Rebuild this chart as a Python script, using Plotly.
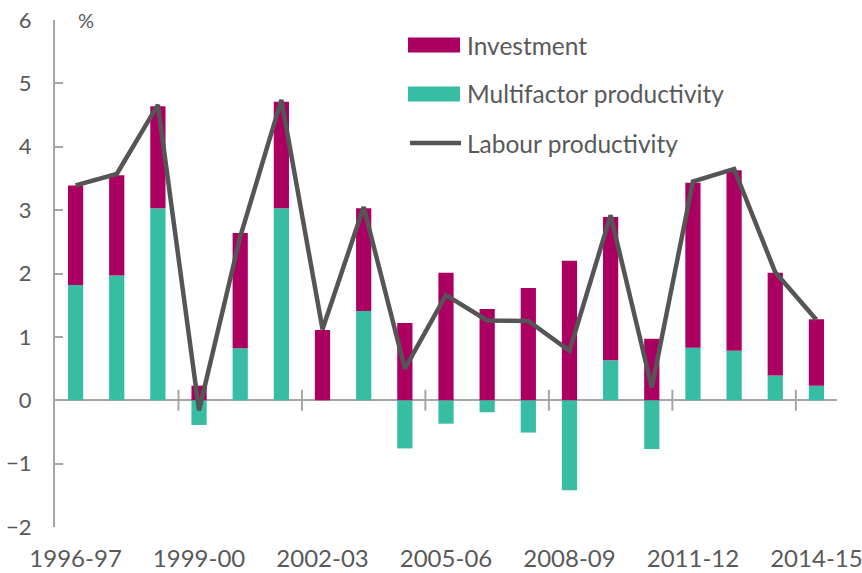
import plotly.graph_objects as go

years = ["1996-97", "1997-98", "1998-99", "1999-00", "2000-01", "2001-02", "2002-03",
         "2003-04", "2004-05", "2005-06", "2006-07", "2007-08", "2008-09", "2009-10",
         "2010-11", "2011-12", "2012-13", "2013-14", "2014-15"]
mfp = [1.82, 1.97, 3.03, -0.39, 0.82, 3.03, 0.0, 1.41, -0.76, -0.37, -0.19, -0.51,
       -1.42, 0.63, -0.77, 0.83, 0.78, 0.39, 0.23]
investment = [1.57, 1.58, 1.61, 0.23, 1.82, 1.68, 1.11, 1.62, 1.22, 2.01, 1.44, 1.77,
              2.20, 2.26, 0.97, 2.60, 2.85, 1.62, 1.05]
labour = [3.39, 3.57, 4.66, -0.16, 2.58, 4.74, 1.12, 3.05, 0.50, 1.66, 1.26, 1.25,
          0.78, 2.92, 0.20, 3.45, 3.65, 2.02, 1.27]
tick_every = 3
boundary_ticks = [i * tick_every - 0.5 for i in range(1, 7)]

x = list(range(len(years)))
txt = "#595959"
axc = "#A6A6A6"
c_inv = "#AB0062"
c_mfp = "#37BDA3"
c_lab = "#555555"
font_family = "Lato, 'Open Sans', sans-serif"

W, H = 862, 573
ML, MR, MT, MB = 55, 25, 20, 46
PW, PH = W - ML - MR, H - MT - MB


def px_x(p):
    return (p - ML) / PW


def px_y(p):
    return (H - MB - p) / PH


fig = go.Figure()
fig.add_trace(go.Bar(x=x, y=mfp, name="Multifactor productivity",
                     marker=dict(color=c_mfp, line=dict(width=0))))
fig.add_trace(go.Bar(x=x, y=investment, name="Investment",
                     marker=dict(color=c_inv, line=dict(width=0))))
fig.add_trace(go.Scatter(x=x, y=labour, name="Labour productivity", mode="lines",
                         line=dict(color=c_lab, width=4.5)))
# crossing tick marks on the zero axis
fig.add_trace(go.Scatter(x=boundary_ticks, y=[0] * len(boundary_ticks), mode="markers",
                         marker=dict(symbol="line-ns", size=15,
                                     line=dict(color=axc, width=2)),
                         showlegend=False, hoverinfo="skip"))

# manual legend (wide swatches as in the original)
legend_items = [("Investment", c_inv, "bar", 45), ("Multifactor productivity", c_mfp, "bar", 94),
                ("Labour productivity", c_lab, "line", 143)]
shapes = []
annotations = []
for label, col, kind, cy in legend_items:
    if kind == "bar":
        shapes.append(dict(type="rect", xref="paper", yref="paper",
                           x0=px_x(408), x1=px_x(460), y0=px_y(cy + 7.5), y1=px_y(cy - 7.5),
                           fillcolor=col, line=dict(width=0)))
    else:
        shapes.append(dict(type="line", xref="paper", yref="paper",
                           x0=px_x(410), x1=px_x(461), y0=px_y(cy), y1=px_y(cy),
                           line=dict(color=col, width=4.5)))
    annotations.append(dict(text=label, xref="paper", yref="paper", x=px_x(465), y=px_y(cy),
                            xanchor="left", yanchor="middle", showarrow=False,
                            font=dict(size=24.5, color=txt)))
annotations.append(dict(text="%", x=px_x(76), y=6, xref="paper", yref="y",
                        xanchor="left", yanchor="middle", showarrow=False,
                        font=dict(size=20, color=txt)))

fig.update_layout(
    width=W, height=H,
    margin=dict(l=ML, r=MR, t=MT, b=MB),
    barmode="relative", bargap=0.63,
    plot_bgcolor="white", paper_bgcolor="white",
    font=dict(family=font_family, color=txt, size=22),
    showlegend=False,
    xaxis=dict(range=[-0.5, 18.5], tickmode="array",
               tickvals=x[::tick_every], ticktext=years[::tick_every],
               showgrid=False, zeroline=False, showline=False, ticks="",
               tickfont=dict(size=24, color=txt), ticklabelstandoff=15,
               ticklabeloverflow="allow", automargin=False),
    yaxis=dict(range=[-2, 6], tickvals=list(range(-2, 7)), showgrid=False,
               zeroline=True, zerolinecolor=axc, zerolinewidth=2,
               showline=True, linecolor=axc, linewidth=2,
               ticks="inside", ticklen=8, tickcolor=axc, tickwidth=2,
               tickfont=dict(size=22, color=txt), ticklabelstandoff=17,
               ticklabeloverflow="allow", automargin=False),
    shapes=shapes,
    annotations=annotations,
)

fig.write_html("out.html", config={"displayModeBar": False},
               post_script="document.body.style.margin='0';document.body.style.padding='0';")
